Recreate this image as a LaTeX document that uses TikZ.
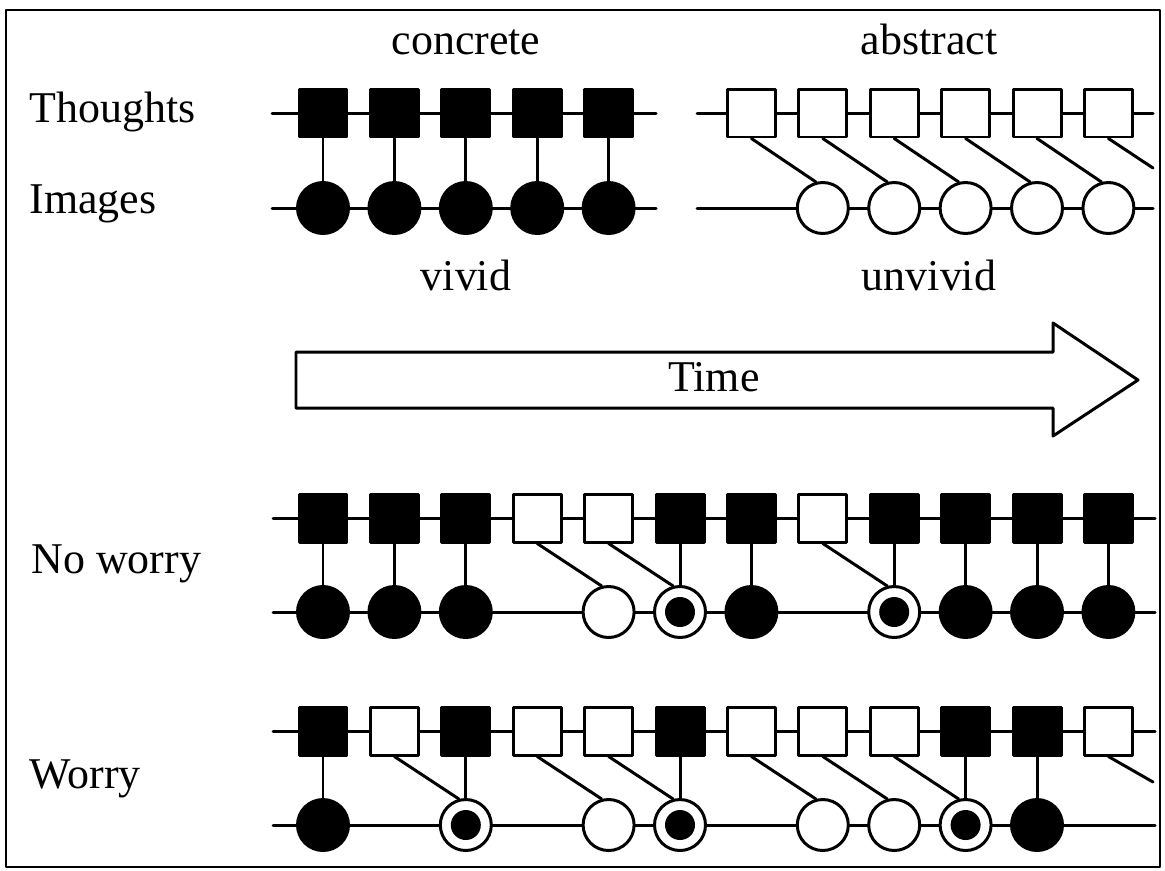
\documentclass[tikz,border=0pt]{standalone}
\usepackage{fontspec}
\setmainfont{Liberation Serif}
\usepackage{pgf,tikz}
\definecolor{ink}{rgb}{0,0,0}

\tikzset{
  sqf/.style={draw=ink,fill=ink,minimum size=0.96cm,inner sep=0pt},
  sqo/.style={draw=ink,fill=white,minimum size=0.96cm,inner sep=0pt},
  cif/.style={circle,draw=ink,fill=ink,minimum size=1.02cm,inner sep=0pt},
  cio/.style={circle,draw=ink,fill=white,minimum size=1.02cm,inner sep=0pt},
  cid/.style={cio,path picture={\fill[ink] (path picture bounding box.center) circle (0.3cm);}},
  lbl/.style={anchor=base,inner sep=0pt,font=\fontsize{25}{30}\selectfont},
  lbw/.style={anchor=base west,inner sep=0pt,font=\fontsize{25}{30}\selectfont}
}

\begin{document}
\begin{tikzpicture}[line cap=round,line join=round,line width=1.7pt,x=0.02cm,y=-0.02cm]
    \useasboundingbox (0,0) rectangle (1165,870);
    \draw[line width=1.1pt,line cap=butt] (6,10) rectangle (1160,867);
    % labels
    \node[lbw] (thoughts) at (28,122) {Thoughts};
    \node[lbw] (images) at (28,213) {Images};
    \node[lbl] (concrete) at (466,54) {concrete};
    \node[lbl] (abstract) at (929,54) {abstract};
    \node[lbl] (vivid) at (466,290) {vivid};
    \node[lbl] (unvivid) at (929,290) {unvivid};
    \node[lbw] (noworry) at (30,573) {No worry};
    \node[lbw] (worry) at (28,788) {Worry};
    % concrete / vivid
    \coordinate (cvL1) at (272,113); \coordinate (cvR1) at (656,113);
    \coordinate (cvL2) at (272,208); \coordinate (cvR2) at (656,208);
    \draw (cvL1) -- (cvR1);
    \draw (cvL2) -- (cvR2);
    \foreach \k in {1,...,5}
    \node[sqf] (cvs\k) at ({323+71.4*(\k-1)},113) {};
    \foreach \k in {1,...,5}
    \node[cif] (cvc\k) at ({323+71.4*(\k-1)},208) {};
    \foreach \k in {1,...,5}
    \draw (cvs\k) -- (cvc\k);
    % abstract / unvivid
    \coordinate (auL1) at (697,113); \coordinate (auR1) at (1153,113);
    \coordinate (auL2) at (697,208); \coordinate (auR2) at (1153,208);
    \coordinate (auE) at (1153,168);
    \draw (auL1) -- (auR1);
    \draw (auL2) -- (auR2);
    \foreach \k in {7,...,12}
    \node[sqo] (aus\k) at ({323+71.4*(\k-1)},113) {};
    \foreach \k in {8,...,12}
    \node[cio] (auc\k) at ({323+71.4*(\k-1)},208) {};
    \foreach \a/\b in {7/8,8/9,9/10,10/11,11/12}
    \draw (aus\a.south) -- (auc\b.105);
    \draw (aus12.south) -- (auE);
    % time arrow
    \draw (296,352) -- (1053,352) -- (1053,323) -- (1138,380) -- (1053,436) -- (1053,408) -- (296,408) -- cycle;
    \node[lbl] (time) at (714,391) {Time};
    % no worry
    \coordinate (nwL1) at (273,518); \coordinate (nwR1) at (1155,518);
    \coordinate (nwL2) at (273,612); \coordinate (nwR2) at (1155,612);
    \draw (nwL1) -- (nwR1);
    \draw (nwL2) -- (nwR2);
    \foreach \k/\s in {1/f,2/f,3/f,4/o,5/o,6/f,7/f,8/o,9/f,10/f,11/f,12/f}
    \node[sq\s] (nws\k) at ({323+71.4*(\k-1)},518) {};
    \foreach \k/\c in {1/f,2/f,3/f,5/o,6/d,7/f,9/d,10/f,11/f,12/f}
    \node[ci\c] (nwc\k) at ({323+71.4*(\k-1)},612) {};
    \foreach \k in {1,2,3,6,7,9,10,11,12}
    \draw (nws\k) -- (nwc\k);
    \foreach \a/\b in {4/5,5/6,8/9}
    \draw (nws\a.south) -- (nwc\b.105);
    % worry
    \coordinate (wrL1) at (273,731); \coordinate (wrR1) at (1155,731);
    \coordinate (wrL2) at (273,825); \coordinate (wrR2) at (1155,825);
    \coordinate (wrE) at (1153,782);
    \draw (wrL1) -- (wrR1);
    \draw (wrL2) -- (wrR2);
    \foreach \k/\s in {1/f,2/o,3/f,4/o,5/o,6/f,7/o,8/o,9/o,10/f,11/f,12/o}
    \node[sq\s] (wrs\k) at ({323+71.4*(\k-1)},731) {};
    \foreach \k/\c in {1/f,3/d,5/o,6/d,8/o,9/o,10/d,11/f}
    \node[ci\c] (wrc\k) at ({323+71.4*(\k-1)},825) {};
    \foreach \k in {1,3,6,10,11}
    \draw (wrs\k) -- (wrc\k);
    \foreach \a/\b in {2/3,4/5,5/6,7/8,8/9,9/10}
    \draw (wrs\a.south) -- (wrc\b.105);
    \draw (wrs12.south) -- (wrE);
\end{tikzpicture}
\end{document}
